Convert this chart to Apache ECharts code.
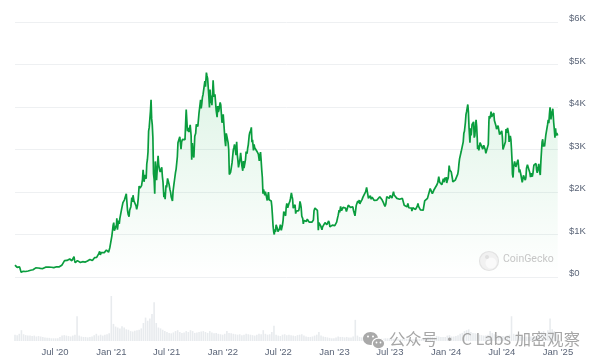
<!DOCTYPE html>
<html><head><meta charset="utf-8">
<script src="https://cdn.jsdelivr.net/npm/echarts@6/dist/echarts.min.js"></script>
<style>html,body{margin:0;padding:0;background:#fff}#c{width:600px;height:364px}</style>
</head><body><div id="c"></div>
<script>
// ---- tick labels ----
const xTickDates = ['2020-07-01','2021-01-01','2021-07-01','2022-01-01','2022-07-01','2023-01-01','2023-07-01','2024-01-01','2024-07-01','2025-01-01'];
const xTickLabels = ["Jul '20","Jan '21","Jul '21","Jan '22","Jul '22","Jan '23","Jul '23","Jan '24","Jul '24","Jan '25"];
const yTickLabels = ['$0','$1K','$2K','$3K','$4K','$5K','$6K'];

// ---- price (USD) ----
const eth2020 = [['02-21',280],['02-25',250],['02-28',225],['03-03',225],['03-07',238],['03-10',200],['03-12',112],['03-16',110],['03-19',135],['03-23',135],['03-27',130],['03-31',133],['04-04',142],['04-07',170],['04-12',158],['04-16',172],['04-20',170],['04-24',186],['04-29',215],['05-03',210],['05-07',212],['05-10',188],['05-14',202],['05-18',213],['05-22',198],['05-26',202],['05-31',232],['06-02',238],['06-06',242],['06-11',232],['06-15',230],['06-19',230],['06-24',235],['06-27',222],['07-01',230],['07-06',241],['07-10',242],['07-15',239],['07-20',236],['07-23',275],['07-26',311],['07-29',318],['08-01',386],['08-03',386],['08-06',396],['08-09',390],['08-13',428],['08-15',433],['08-18',423],['08-21',388],['08-25',383],['08-28',396],['09-01',477],['09-03',385],['09-05',335],['09-08',337],['09-12',385],['09-16',364],['09-18',384],['09-22',343],['09-25',352],['09-29',360],['10-03',346],['10-08',351],['10-11',375],['10-15',378],['10-20',368],['10-23',414],['10-27',403],['10-31',386],['11-04',401],['11-07',454],['11-10',444],['11-14',460],['11-18',480],['11-21',550],['11-24',605],['11-26',519],['11-29',574],['12-01',588],['12-05',596],['12-09',573],['12-11',546],['12-16',636],['12-19',654],['12-21',609],['12-23',584],['12-27',685],['12-29',731],['12-31',737]];
const eth2021 = [['01-03',975],['01-05',1100],['01-07',1220],['01-09',1280],['01-11',1090],['01-13',1130],['01-15',1170],['01-18',1230],['01-19',1380],['01-21',1115],['01-23',1235],['01-25',1325],['01-27',1250],['01-29',1380],['02-01',1377],['02-04',1610],['02-06',1680],['02-08',1750],['02-10',1750],['02-13',1815],['02-15',1780],['02-17',1850],['02-19',1960],['02-21',1935],['02-23',1570],['02-25',1480],['02-28',1420],['03-02',1570],['03-04',1540],['03-06',1655],['03-09',1870],['03-12',1770],['03-13',1925],['03-16',1790],['03-18',1820],['03-21',1780],['03-23',1670],['03-25',1590],['03-28',1700],['03-30',1840],['04-02',2140],['04-05',2090],['04-08',2090],['04-10',2150],['04-13',2300],['04-15',2520],['04-16',2430],['04-18',2240],['04-20',2330],['04-22',2400],['04-23',2360],['04-25',2310],['04-27',2660],['04-29',2760],['05-01',2940],['05-03',3430],['05-05',3520],['05-07',3490],['05-09',3900],['05-11',4170],['05-13',3720],['05-15',3580],['05-17',3280],['05-19',2430],['05-21',2300],['05-23',1960],['05-25',2720],['05-27',2740],['05-29',2280],['06-01',2630],['06-03',2850],['06-05',2640],['06-08',2520],['06-10',2470],['06-13',2510],['06-15',2580],['06-17',2370],['06-19',2240],['06-22',1880],['06-24',1990],['06-26',1830],['06-29',2160],['07-01',2110],['07-04',2320],['07-07',2320],['07-09',2180],['07-12',2050],['07-14',1990],['07-16',1880],['07-18',1890],['07-20',1790],['07-22',2020],['07-25',2190],['07-27',2300],['07-30',2460],['08-01',2540],['08-03',2510],['08-05',2830],['08-07',3160],['08-10',3130],['08-13',3300],['08-15',3310],['08-17',3010],['08-19',3180],['08-22',3240],['08-24',3230],['08-27',3260],['08-30',3230],['09-02',3790],['09-03',3940],['09-05',3930],['09-07',3430],['09-09',3510],['09-12',3410],['09-14',3430],['09-16',3580],['09-19',3330],['09-21',2760],['09-23',3150],['09-25',2930],['09-28',2810],['10-01',3310],['10-04',3380],['10-06',3590],['10-08',3560],['10-11',3540],['10-13',3500],['10-15',3870],['10-17',3850],['10-20',4170],['10-22',3970],['10-24',4080],['10-26',4230],['10-28',4290],['10-30',4310],['11-01',4320],['11-03',4610],['11-05',4480],['11-08',4810],['11-10',4730],['11-12',4670],['11-15',4630],['11-16',4250],['11-18',3990],['11-20',4410],['11-22',4090],['11-24',4270],['11-26',4040],['11-28',4290],['11-30',4630],['12-01',4630],['12-03',4240],['12-04',4200],['12-06',4300],['12-08',4300],['12-10',3920],['12-13',3760],['12-15',4020],['12-17',3880],['12-19',3930],['12-21',4020],['12-23',4110],['12-25',4050],['12-27',4040],['12-29',3630],['12-31',3680]];
const eth2022 = [['01-02',3830],['01-04',3790],['01-06',3410],['01-08',3200],['01-10',3080],['01-12',3380],['01-14',3310],['01-16',3330],['01-18',3160],['01-20',3000],['01-22',2410],['01-24',2440],['01-26',2460],['01-28',2550],['01-31',2690],['02-02',2690],['02-04',2990],['02-06',3050],['02-08',3120],['02-10',3080],['02-13',2870],['02-15',3180],['02-17',2880],['02-19',2750],['02-21',2580],['02-24',2600],['02-26',2780],['02-28',2920],['03-02',2950],['03-04',2620],['03-07',2500],['03-09',2730],['03-11',2560],['03-14',2590],['03-16',2770],['03-18',2950],['03-21',2900],['03-23',3030],['03-25',3110],['03-28',3330],['03-30',3400],['04-02',3450],['04-04',3520],['04-06',3170],['04-08',3230],['04-11',2980],['04-13',3120],['04-15',3040],['04-18',3060],['04-20',3080],['04-22',2960],['04-25',3000],['04-27',2890],['04-30',2730],['05-02',2860],['05-04',2940],['05-06',2750],['05-08',2520],['05-10',2340],['05-12',1960],['05-14',2060],['05-16',2020],['05-18',1920],['05-20',2010],['05-22',2040],['05-24',1970],['05-26',1800],['05-28',1790],['05-30',2000],['06-01',1820],['06-03',1780],['06-06',1860],['06-08',1790],['06-10',1660],['06-12',1450],['06-14',1210],['06-16',1070],['06-18',1000],['06-20',1120],['06-22',1060],['06-24',1230],['06-26',1200],['06-28',1140],['06-30',1070],['07-02',1070],['07-05',1130],['07-08',1230],['07-11',1100],['07-13',1110],['07-15',1230],['07-17',1340],['07-19',1540],['07-21',1570],['07-23',1550],['07-25',1440],['07-27',1640],['07-29',1730],['08-01',1630],['08-03',1620],['08-05',1730],['08-08',1780],['08-10',1850],['08-13',1980],['08-15',1900],['08-17',1830],['08-19',1620],['08-22',1620],['08-25',1700],['08-27',1490],['08-29',1550],['09-01',1590],['09-03',1550],['09-06',1560],['09-08',1640],['09-10',1780],['09-12',1720],['09-14',1630],['09-16',1430],['09-19',1380],['09-21',1250],['09-23',1330],['09-26',1330],['09-28',1340],['10-01',1310],['10-04',1360],['10-07',1330],['10-10',1290],['10-13',1290],['10-16',1310],['10-19',1290],['10-21',1300],['10-24',1340],['10-26',1560],['10-29',1620],['11-01',1580],['11-04',1650],['11-06',1570],['11-08',1330],['11-09',1100],['11-11',1280],['11-14',1240],['11-17',1200],['11-19',1220],['11-21',1110],['11-23',1180],['11-26',1200],['11-29',1220],['12-01',1280],['12-04',1240],['12-07',1230],['12-10',1260],['12-13',1320],['12-15',1270],['12-17',1180],['12-19',1170],['12-22',1220],['12-25',1220],['12-28',1190],['12-31',1200]];
const eth2023 = [['01-02',1210],['01-05',1250],['01-08',1290],['01-11',1390],['01-13',1450],['01-16',1570],['01-18',1520],['01-21',1660],['01-24',1560],['01-26',1600],['01-29',1640],['02-01',1640],['02-03',1660],['02-06',1620],['02-09',1540],['02-11',1510],['02-13',1510],['02-15',1690],['02-17',1700],['02-20',1700],['02-22',1640],['02-25',1600],['02-28',1600],['03-02',1650],['03-04',1570],['03-07',1560],['03-09',1440],['03-11',1430],['03-13',1680],['03-15',1650],['03-18',1790],['03-20',1740],['03-23',1810],['03-25',1720],['03-28',1770],['03-30',1790],['04-01',1820],['04-04',1880],['04-07',1860],['04-10',1910],['04-13',2010],['04-16',2110],['04-18',2100],['04-20',1940],['04-22',1850],['04-25',1860],['04-28',1910],['05-01',1830],['05-04',1880],['05-06',1900],['05-09',1850],['05-11',1800],['05-14',1810],['05-17',1820],['05-20',1810],['05-23',1820],['05-26',1820],['05-29',1890],['06-01',1870],['06-04',1890],['06-06',1810],['06-08',1840],['06-10',1750],['06-12',1740],['06-15',1660],['06-18',1720],['06-21',1890],['06-23',1870],['06-26',1860],['06-29',1850],['07-02',1920],['07-05',1910],['07-08',1860],['07-11',1880],['07-13',2010],['07-15',1930],['07-18',1890],['07-21',1890],['07-24',1850],['07-27',1860],['07-30',1880],['08-02',1830],['08-05',1830],['08-08',1850],['08-11',1850],['08-14',1840],['08-17',1690],['08-20',1670],['08-23',1680],['08-26',1650],['08-29',1730],['09-01',1630],['09-04',1630],['09-07',1640],['09-10',1620],['09-11',1550],['09-14',1630],['09-17',1620],['09-20',1620],['09-23',1590],['09-26',1600],['09-29',1670],['10-01',1730],['10-03',1660],['10-06',1650],['10-09',1580],['10-12',1540],['10-15',1560],['10-18',1570],['10-20',1610],['10-23',1790],['10-26',1780],['10-29',1800],['11-01',1850],['11-04',1830],['11-07',1880],['11-10',2080],['11-12',2050],['11-15',2060],['11-17',1960],['11-20',2010],['11-23',2060],['11-26',2060],['11-29',2030],['12-02',2170],['12-05',2230],['12-08',2360],['12-11',2230],['12-13',2260],['12-16',2220],['12-18',2170],['12-20',2200],['12-23',2310],['12-26',2230],['12-28',2340],['12-31',2280]];
const eth2024 = [['01-02',2350],['01-03',2210],['01-05',2270],['01-08',2330],['01-11',2620],['01-13',2520],['01-15',2510],['01-18',2470],['01-20',2470],['01-22',2300],['01-23',2240],['01-25',2220],['01-28',2260],['01-31',2280],['02-02',2310],['02-05',2300],['02-08',2420],['02-10',2500],['02-12',2660],['02-14',2780],['02-16',2800],['02-19',2940],['02-21',2960],['02-23',2920],['02-26',3180],['02-28',3380],['03-01',3430],['03-04',3630],['03-06',3820],['03-08',3890],['03-10',3880],['03-12',4060],['03-14',3880],['03-16',3520],['03-18',3520],['03-19',3160],['03-21',3500],['03-23',3330],['03-26',3590],['03-28',3560],['03-31',3650],['04-02',3280],['04-04',3330],['04-06',3350],['04-08',3700],['04-10',3540],['04-12',3240],['04-13',3010],['04-15',3100],['04-17',2980],['04-19',3060],['04-21',3160],['04-23',3190],['04-25',3150],['04-27',3130],['04-30',3010],['05-01',2970],['05-03',3100],['05-06',3070],['05-08',3000],['05-10',2910],['05-12',2930],['05-14',2880],['05-16',2940],['05-18',3120],['05-20',3660],['05-21',3790],['05-23',3730],['05-26',3830],['05-27',3890],['05-29',3770],['05-31',3760],['06-03',3780],['06-05',3860],['06-07',3680],['06-10',3670],['06-12',3560],['06-14',3480],['06-17',3510],['06-19',3560],['06-21',3520],['06-24',3350],['06-26',3370],['06-29',3380],['07-01',3440],['07-03',3300],['07-05',3000],['07-08',3020],['07-10',3110],['07-13',3180],['07-15',3480],['07-17',3390],['07-20',3510],['07-22',3440],['07-24',3340],['07-25',3180],['07-27',3250],['07-29',3320],['07-31',3230],['08-02',2990],['08-04',2690],['08-05',2420],['08-07',2340],['08-09',2600],['08-12',2720],['08-14',2660],['08-16',2590],['08-18',2610],['08-20',2570],['08-23',2760],['08-25',2750],['08-27',2460],['08-29',2530],['09-01',2430],['09-03',2420],['09-06',2230],['09-08',2300],['09-10',2390],['09-13',2430],['09-16',2280],['09-18',2340],['09-20',2560],['09-23',2640],['09-26',2640],['09-28',2680],['10-01',2450],['10-03',2350],['10-06',2440],['10-09',2360],['10-11',2440],['10-14',2630],['10-16',2610],['10-19',2650],['10-21',2670],['10-23',2520],['10-25',2450],['10-28',2570],['10-30',2660],['11-01',2520],['11-04',2400],['11-05',2430],['11-06',2720],['11-08',2960],['11-10',3180],['11-12',3240],['11-14',3070],['11-16',3130],['11-18',3070],['11-20',3070],['11-22',3330],['11-24',3370],['11-26',3320],['11-28',3590],['11-30',3700],['12-02',3620],['12-04',3830],['12-06',3990],['12-08',4000],['12-09',3710],['12-11',3830],['12-13',3880],['12-15',3960],['12-16',4000],['12-18',3630],['12-20',3470],['12-22',3280],['12-24',3500],['12-26',3330],['12-28',3390],['12-30',3360],['12-31',3330]];

// ---- weekly volume (USD billions) ----
const volStart = '2020-02-21';
const volumeWeekly = [
  14,13,16,24,15,13,12,12,11,12,10,11,10,9,8,7,7,6,6,
  6,6,9,12,13,12,11,10,12,14,55,12,10,9,9,8,9,10,13,16,12,14,12,14,15,17,
  100,38,32,30,28,33,30,26,25,22,21,23,24,25,28,40,52,45,50,60,86,40,30,28,25,22,
  20,18,17,19,22,24,20,18,19,22,20,24,22,18,19,20,21,22,20,18,22,19,17,18,16,15,
  14,16,22,18,17,16,15,14,15,13,14,16,15,14,13,12,14,16,15,24,16,14,15,20,34,14,
  12,11,14,15,13,14,13,12,11,13,14,15,12,10,9,9,10,12,14,20,12,10,9,8,7,6,
  6,8,10,9,9,8,9,8,8,10,47,12,9,8,9,10,11,9,8,7,6,6,6,5,6,6,
  6,5,5,5,5,4,4,7,5,4,4,4,5,4,4,5,7,8,9,10,9,8,11,10,9,9,
  9,12,13,10,10,11,13,16,18,22,24,26,20,18,17,16,14,13,12,12,14,22,18,15,13,12,
  10,11,10,12,14,55,16,13,11,10,10,9,10,9,10,9,10,12,18,20,22,18,24,50,26,22,20
];

function ts(s){ const p = s.split('-').map(Number); return Date.UTC(p[0], p[1]-1, p[2]); }
const DAY = 86400000;
const priceData = [];
[[2020,eth2020],[2021,eth2021],[2022,eth2022],[2023,eth2023],[2024,eth2024]].forEach(([y, arr]) => {
  arr.forEach(([md, v]) => priceData.push([ts(y + '-' + md), v]));
});
const volData = volumeWeekly.map((v, i) => [ts(volStart) + i * 7 * DAY, v]);
const xTicks = xTickDates.map(ts);
const xMin = ts('2020-02-21'), xMax = ts('2025-01-01');

const chart = echarts.init(document.getElementById('c'), null, {renderer: 'canvas'});
const labelColor = '#5b6578';
chart.setOption({
  animation: false,
  backgroundColor: '#fff',
  grid: [
    {left: 15, right: 42, top: 22, bottom: 87},
    {left: 15, right: 42, top: 296, bottom: 23}
  ],
  xAxis: [
    {type: 'value', gridIndex: 0, min: xMin, max: xMax, show: false},
    {type: 'value', gridIndex: 1, min: xMin, max: xMax,
     axisLine: {show: false}, axisTick: {show: false}, splitLine: {show: false},
     axisLabel: {customValues: xTicks, color: labelColor, fontSize: 9.5, fontFamily: 'Liberation Sans', margin: 6,
       showMinLabel: true, showMaxLabel: true,
       formatter: (v) => { const i = xTicks.indexOf(v); return i >= 0 ? xTickLabels[i] : ''; }}}
  ],
  yAxis: [
    {type: 'value', gridIndex: 0, position: 'right', min: 0, max: 6000, interval: 1000,
     axisLine: {show: false}, axisTick: {show: false},
     splitLine: {lineStyle: {color: '#eef0f2', width: 1}},
     axisLabel: {color: labelColor, fontSize: 9.5, fontFamily: 'Liberation Sans', margin: 11,
       verticalAlign: 'bottom', lineHeight: 7,
       formatter: (v) => yTickLabels[Math.round(v / 1000)]}},
    {type: 'value', gridIndex: 1, min: 0, max: 100, show: false}
  ],
  series: [
    {type: 'bar', xAxisIndex: 1, yAxisIndex: 1, data: volData, barWidth: 1.6,
     itemStyle: {color: '#e8ebee'}, silent: true},
    {type: 'line', xAxisIndex: 0, yAxisIndex: 0, data: priceData, showSymbol: false,
     lineStyle: {color: '#0a9d3e', width: 1.7}, itemStyle: {color: '#0a9d3e'},
     areaStyle: {color: new echarts.graphic.LinearGradient(0, 0, 0, 1, [
       {offset: 0, color: 'rgba(0,168,62,0.19)'},
       {offset: 1, color: 'rgba(0,168,62,0.0)'}])},
     z: 3}
  ],
  graphic: [
    {type: 'circle', shape: {cx: 489, cy: 261, r: 9.5}, style: {fill: '#f1f1f1', stroke: '#e3e3e3', lineWidth: 1.2}, z: 10},
    {type: 'circle', shape: {cx: 491, cy: 263, r: 5.5}, style: {fill: '#fafafa'}, z: 10},
    {type: 'circle', shape: {cx: 487, cy: 257, r: 2}, style: {fill: '#e0e0e0'}, z: 10},
    {type: 'text', left: 503, top: 254, style: {text: 'CoinGecko', fill: '#c6c6c6', font: '10.5px Roboto'}, z: 10},
    {type: 'ellipse', shape: {cx: 370.5, cy: 338.5, rx: 7.5, ry: 6.5}, style: {fill: '#a9a9a9'}, z: 20},
    {type: 'ellipse', shape: {cx: 378.5, cy: 343.5, rx: 6.2, ry: 5.4}, style: {fill: '#a9a9a9', stroke: '#fff', lineWidth: 1.2}, z: 21},
    {type: 'circle', shape: {cx: 368, cy: 336.5, r: 1}, style: {fill: '#fff'}, z: 22},
    {type: 'circle', shape: {cx: 373, cy: 336.5, r: 1}, style: {fill: '#fff'}, z: 22},
    {type: 'circle', shape: {cx: 376.5, cy: 342.5, r: 0.9}, style: {fill: '#fff'}, z: 22},
    {type: 'circle', shape: {cx: 380.5, cy: 342.5, r: 0.9}, style: {fill: '#fff'}, z: 22},
    {type: 'text', left: 389, top: 331, style: {text: '公众号 · C Labs 加密观察', fill: 'rgba(150,150,150,0.85)', font: '16.3px "Noto Sans CJK SC"'}, z: 20}
  ]
});
</script></body></html>
